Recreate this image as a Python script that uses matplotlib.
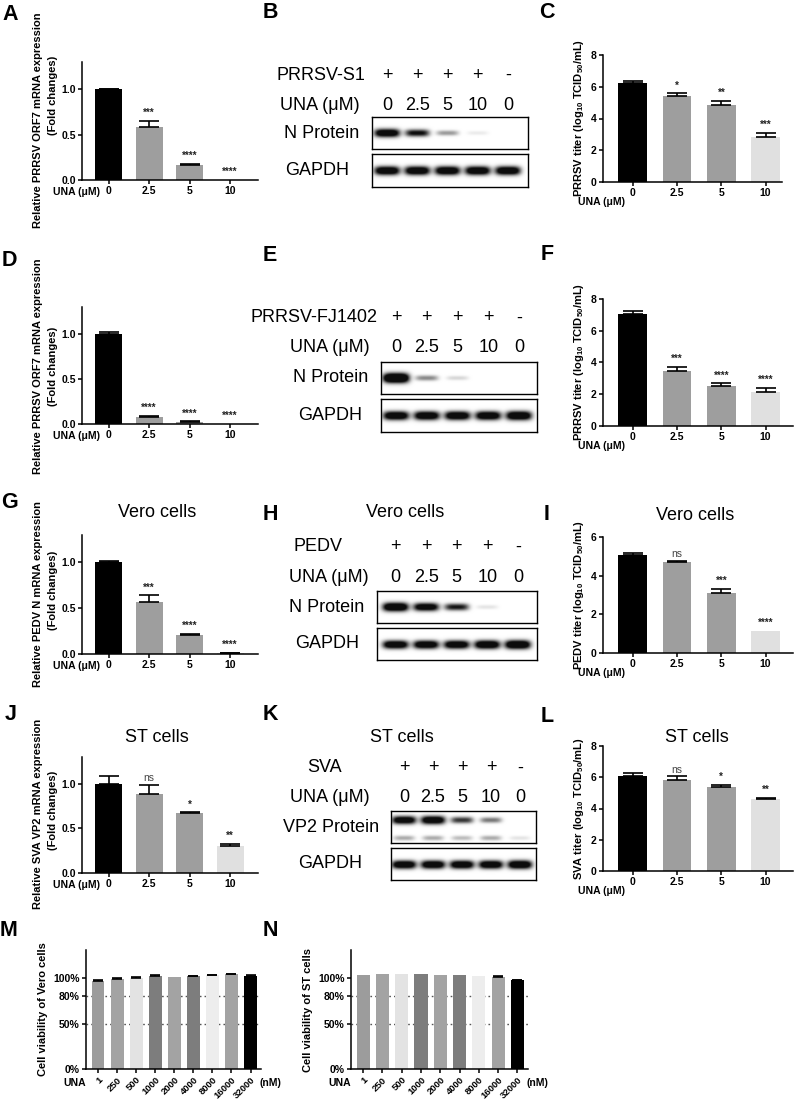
import numpy as np
import matplotlib
matplotlib.use("Agg")
import matplotlib.pyplot as plt
from matplotlib.transforms import blended_transform_factory as blend

# --- CONFIG ---
FIG_W, FIG_H = 796, 1103
plt.rcParams["font.family"] = ["Liberation Sans", "DejaVu Sans"]
plt.rcParams["mathtext.fontset"] = "custom"
plt.rcParams["mathtext.rm"] = "Liberation Sans:bold"
plt.rcParams["mathtext.it"] = "Liberation Sans:bold"
plt.rcParams["mathtext.bf"] = "Liberation Sans:bold"

# --- DATA ---
UNA_UM = ["0", "2.5", "5", "10"]
UNA_NM = ["1", "250", "500", "1000", "2000", "4000", "8000", "16000", "32000"]
BAR_COLORS_4 = ["#000000", "#9e9e9e", "#9e9e9e", "#e0e0e0"]
BAR_COLORS_9 = ["#9c9c9c", "#a3a3a3", "#e3e3e3", "#7d7d7d", "#a3a3a3",
                "#7d7d7d", "#ededed", "#a3a3a3", "#000000"]

# qPCR (fold change)
A_mean = [1.0, 0.58, 0.17, 0.0]
A_err = [0.005, 0.07, 0.006, 0.0]
A_sig = ["", "***", "****", "****"]
D_mean = [1.0, 0.08, 0.02, 0.0]
D_err = [0.025, 0.008, 0.008, 0.0]
D_sig = ["", "****", "****", "****"]
G_mean = [1.0, 0.57, 0.21, 0.01]
G_err = [0.012, 0.07, 0.012, 0.006]
G_sig = ["", "***", "****", "****"]
J_mean = [1.0, 0.89, 0.67, 0.30]
J_err = [0.09, 0.10, 0.01, 0.03]
J_sig = ["", "ns", "*", "**"]

# titers (log10 TCID50/mL)
C_mean = [6.25, 5.41, 4.84, 2.85]
C_err = [0.13, 0.17, 0.27, 0.25]
C_sig = ["", "*", "**", "***"]
F_mean = [7.07, 3.48, 2.55, 2.13]
F_err = [0.19, 0.25, 0.15, 0.28]
F_sig = ["", "***", "****", "****"]
I_mean = [5.05, 4.70, 3.10, 1.15]
I_err = [0.12, 0.08, 0.22, 0.0]
I_sig = ["", "ns", "***", "****"]
L_mean = [6.10, 5.80, 5.40, 4.60]
L_err = [0.17, 0.25, 0.13, 0.10]
L_sig = ["", "ns", "*", "**"]

# cell viability (%)
M_mean = [96.7, 99.2, 100.7, 102.5, 101.5, 102.0, 103.3, 104.4, 102.8]
M_err = [0.8, 0.6, 0.6, 0.6, 0.0, 0.5, 0.5, 0.6, 0.6]
N_mean = [103.8, 104.3, 104.5, 104.2, 103.8, 103.3, 102.5, 101.3, 97.8]
N_err = [0.0, 0.0, 0.0, 0.0, 0.0, 0.0, 0.0, 0.6, 0.6]

# western blot band intensities (lanes: 0, 2.5, 5, 10, mock)
VIRUS_SIGNS = ["+", "+", "+", "+", "-"]
LANE_UNA = ["0", "2.5", "5", "10", "0"]
B_N = [1.0, 0.75, 0.3, 0.06, 0.0]
B_GAPDH = [1.0, 1.0, 1.0, 1.0, 1.0]
E_N = [1.3, 0.35, 0.12, 0.0, 0.0]
E_GAPDH = [1.0, 1.0, 1.0, 1.0, 1.05]
H_N = [1.1, 0.95, 0.7, 0.08, 0.0]
H_GAPDH = [1.0, 1.0, 1.0, 1.05, 1.1]
K_VP2 = [0.95, 1.0, 0.6, 0.4, 0.0]
K_VP2_LOW = [0.25, 0.25, 0.2, 0.25, 0.08]
K_GAPDH = [1.0, 1.0, 1.0, 1.0, 1.05]

fig = plt.figure(figsize=(FIG_W / 100, FIG_H / 100), dpi=100)


def px_axes(left, top, right, bottom):
    return fig.add_axes([left / FIG_W, 1 - bottom / FIG_H,
                         (right - left) / FIG_W, (bottom - top) / FIG_H])


def px_text(x, y, s, **kw):
    kw.setdefault("ha", "center")
    kw.setdefault("va", "center")
    return fig.text(x / FIG_W, 1 - y / FIG_H, s, **kw)


def bar_panel(box, means, errs, sigs, colors, ylim, yticks, yticklabels,
              xticklabels, xlim, width, capsize, sig_fs=7):
    ax = px_axes(*box)
    x = np.arange(len(means))
    ax.bar(x, means, width=width, color=colors, linewidth=0, zorder=2)
    for xi, m, e in zip(x, means, errs):
        if e > 0:
            ax.errorbar(xi, m, yerr=[[0], [e]], fmt="none", ecolor="black",
                        elinewidth=1.2, capsize=capsize, capthick=1.2, zorder=3)
    for xi, m, e, s in zip(x, means, errs, sigs):
        if not s:
            continue
        if s == "ns":
            ax.annotate(s, (xi, m + e), xytext=(0, 1), textcoords="offset points",
                        ha="center", va="bottom", fontsize=7.5, color="#444444")
        else:
            ax.annotate(s, (xi, m + e), xytext=(0, 2), textcoords="offset points",
                        ha="center", va="bottom", fontsize=sig_fs,
                        fontweight="bold", color="#222222")
    ax.set_xlim(*xlim)
    ax.set_ylim(*ylim)
    ax.set_xticks(x)
    ax.set_xticklabels(xticklabels)
    ax.set_yticks(yticks)
    ax.set_yticklabels(yticklabels)
    for side in ["top", "right"]:
        ax.spines[side].set_visible(False)
    for side in ["left", "bottom"]:
        ax.spines[side].set_linewidth(1.1)
    ax.tick_params(width=1.1, length=3, labelsize=7.5, pad=1.5)
    for lbl in ax.get_xticklabels() + ax.get_yticklabels():
        lbl.set_fontweight("bold")
    return ax


def draw_strip(ax, xlim, bands):
    nx, ny = 400, 64
    xs = np.linspace(xlim[0], xlim[1], nx)
    ys = np.linspace(0, 1, ny)
    img = np.zeros((ny, nx))
    for intens, yc in bands:
        for lane, v in enumerate(intens):
            if v <= 0:
                continue
            half_w = 0.34 + 0.08 * min(v, 1.0)
            gx = np.exp(-np.abs((xs - lane) / half_w) ** 4)
            thick = 0.06 + 0.07 * min(v, 1.3)
            gy = np.exp(-np.abs((ys - yc) / thick) ** 2.2)
            img += np.outer(gy, gx) * v * 1.4
    img = np.clip(img, 0, 1)
    ax.imshow(img, cmap="gray_r", vmin=0, vmax=1.05,
              extent=(xlim[0], xlim[1], 0, 1), origin="lower",
              aspect="auto", interpolation="bilinear")
    ax.set_xlim(*xlim)
    ax.set_ylim(0, 1)
    ax.set_xticks([])
    ax.set_yticks([])
    for s in ax.spines.values():
        s.set_linewidth(1.0)


def blot_panel(top_box, bot_box, lane0, lane_sp, upper, gapdh, virus, rows,
               prot_label, prot_right, gapdh_cx, virus_x, virus_ha, una_right,
               lower=None):
    xl = ((top_box[0] - lane0) / lane_sp, (top_box[2] - lane0) / lane_sp)
    ax1 = px_axes(*top_box)
    bands = [(upper, 0.5 if lower is None else 0.72)]
    if lower is not None:
        bands.append((lower, 0.15))
    draw_strip(ax1, xl, bands)
    ax2 = px_axes(*bot_box)
    draw_strip(ax2, xl, [(gapdh, 0.48)])
    y_sign, y_una = rows
    tr = blend(ax1.transData, fig.transFigure)
    for i, (sg, u) in enumerate(zip(VIRUS_SIGNS, LANE_UNA)):
        fig.text(i, 1 - y_sign / FIG_H, sg, transform=tr, ha="center",
                 va="center", fontsize=13)
        fig.text(i, 1 - y_una / FIG_H, u, transform=tr, ha="center",
                 va="center", fontsize=13)
    px_text(virus_x, y_sign, virus, ha=virus_ha, fontsize=13)
    px_text(una_right, y_una, "UNA (μM)", ha="right", fontsize=13)
    px_text(prot_right, (top_box[1] + top_box[3]) / 2, prot_label, ha="right",
            fontsize=13)
    px_text(gapdh_cx, (bot_box[1] + bot_box[3]) / 2, "GAPDH", fontsize=13)


# ---------- left column: qPCR ----------
QX = (-0.66, 3.69)
q_ticks = [0.0, 0.5, 1.0]
q_lbls = ["0.0", "0.5", "1.0"]
for box, m, e, s in [((82, 62, 258, 180), A_mean, A_err, A_sig),
                     ((82, 307, 258, 424), D_mean, D_err, D_sig),
                     ((82, 535, 258, 654), G_mean, G_err, G_sig),
                     ((82, 757, 258, 873), J_mean, J_err, J_sig)]:
    bar_panel(box, m, e, s, BAR_COLORS_4, (0, 1.3), q_ticks, q_lbls,
              UNA_UM, QX, 0.67, 7.5)
    px_text(100, box[3] + 12, "UNA (μM)", ha="right", fontsize=7.5,
            fontweight="bold")

q_ylabels = [("Relative PRRSV ORF7 mRNA expression", 120, 95),
             ("Relative PRRSV ORF7 mRNA expression", 366, 366),
             ("Relative PEDV N mRNA expression", 594, 590),
             ("Relative SVA VP2 mRNA expression", 814, 810)]
for txt, y1, y2 in q_ylabels:
    px_text(38, y1, txt, rotation=90, fontsize=8, fontweight="bold")
    px_text(53, y2, "(Fold changes)", rotation=90, fontsize=8,
            fontweight="bold")

# ---------- right column: titers ----------
t_ticks = [0, 2, 4, 6, 8]
for box, m, e, s, yt, xr, name in [
        ((603, 55, 782, 182), C_mean, C_err, C_sig, t_ticks, 3.37, "PRRSV"),
        ((603, 299, 793, 426), F_mean, F_err, F_sig, t_ticks, 3.62, "PRRSV"),
        ((603, 537, 793, 653), I_mean, I_err, I_sig, [0, 2, 4, 6], 3.62, "PEDV"),
        ((603, 746, 793, 871), L_mean, L_err, L_sig, t_ticks, 3.62, "SVA")]:
    ymax = max(yt)
    bar_panel(box, m, e, s, BAR_COLORS_4, (0, ymax), yt, [str(v) for v in yt],
              UNA_UM, (-0.67, xr), 0.65, 7.5)
    px_text(578, box[3] + 20, "UNA (μM)", ha="left", fontsize=7.5,
            fontweight="bold")
    px_text(579, (box[1] + box[3]) / 2,
            name + r" titer (log$_{10}$ TCID$_{50}$/mL)", rotation=90,
            fontsize=8, fontweight="bold")

# ---------- viability ----------
v_ticks = [0, 50, 80, 100]
v_lbls = ["0%", "50%", "80%", "100%"]
for box, m, e, cx, ylab in [((86, 950, 261, 1069), M_mean, M_err, 43,
                             "Cell viability of Vero cells"),
                            ((351, 950, 528, 1069), N_mean, N_err, 308,
                             "Cell viability of ST cells")]:
    ax = bar_panel(box, m, e, [""] * 9, BAR_COLORS_9, (0, 131), v_ticks,
                   v_lbls, UNA_NM, (-0.63, 8.55), 0.68, 3.5)
    for yv in [80, 50]:
        ax.axhline(yv, color="#555555", lw=1.0, ls=(0, (1.2, 2.2)), zorder=1)
    ax.tick_params(axis="x", labelsize=6.8)
    for lbl in ax.get_xticklabels():
        lbl.set_rotation(45)
        lbl.set_ha("right")
        lbl.set_va("top")
        lbl.set_rotation_mode("anchor")
    ax.tick_params(axis="y", labelsize=7.5)
    px_text(cx, (box[1] + box[3]) / 2, ylab, rotation=90, fontsize=8,
            fontweight="bold")
    px_text(box[0] - 11, 1083, "UNA", ha="center", fontsize=7.5,
            fontweight="bold")
    px_text(box[2] + 9, 1083, "(nM)", ha="center", fontsize=7.5,
            fontweight="bold")

# ---------- western blots ----------
blot_panel((372, 117, 528, 149), (372, 154, 528, 187), 387, 30.25, B_N,
           B_GAPDH, "PRRSV-S1", (75, 105), "N Protein", 359, 317, 365,
           "right", 360)
blot_panel((381, 362, 537, 394), (381, 399, 537, 432), 396, 30.75, E_N,
           E_GAPDH, "PRRSV-FJ1402", (318, 348), "N Protein", 368, 330, 378,
           "right", 370)
blot_panel((377, 591, 537, 623), (377, 628, 537, 660), 395.5, 30.6, H_N,
           H_GAPDH, "PEDV", (547, 577), "N Protein", 364, 327, 318,
           "center", 369)
blot_panel((391, 811, 536, 843), (391, 848, 536, 880), 404, 29.0, K_VP2,
           K_GAPDH, "SVA", (768, 797), "VP2 Protein", 379, 330, 325,
           "center", 370, lower=K_VP2_LOW)

# ---------- titles ----------
for x, y, t in [(157, 513, "Vero cells"), (405, 513, "Vero cells"),
                (695, 515, "Vero cells"), (157, 737, "ST cells"),
                (402, 737, "ST cells"), (697, 737, "ST cells")]:
    px_text(x, y, t, fontsize=13)

# ---------- panel letters ----------
for x, y, t in [(10, 15, "A"), (270, 12, "B"), (547, 13, "C"),
                (9, 261, "D"), (270, 255, "E"), (547, 254, "F"),
                (9, 503, "G"), (270, 515, "H"), (547, 514, "I"),
                (11, 715, "J"), (270, 714, "K"), (547, 716, "L"),
                (9, 930, "M"), (270, 930, "N")]:
    px_text(x, y, t, fontsize=15.5, fontweight="bold")

fig.savefig("out.png", dpi=100)
